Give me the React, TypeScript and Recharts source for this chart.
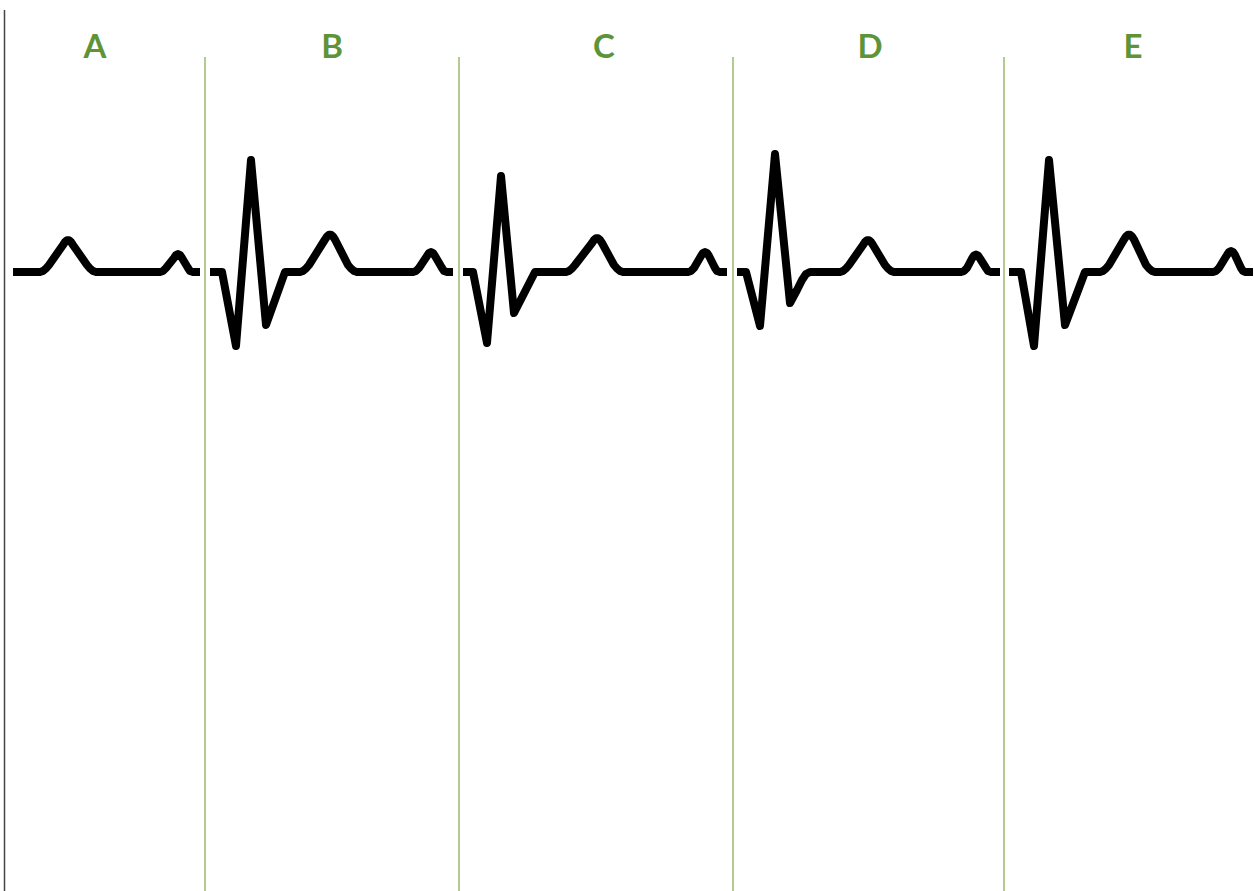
import {
  LineChart,
  Line,
  XAxis,
  YAxis,
  ReferenceLine,
  ReferenceDot,
} from "recharts";

// ECG trace, one strip per panel. t = horizontal position, v = amplitude (mV-ish)
type Pt = [number, number];

const segA: Pt[] = [
  [13, 0], [40, 0],
  [43, 0.01], [46, 0.035], [49, 0.07], [63, 0.27], [65, 0.3], [67, 0.318], [69, 0.318], [71, 0.3], [73, 0.27], [87, 0.07], [90, 0.035], [93, 0.01], [96, 0],
  [160, 0], [163, 0.01], [166, 0.04], [174, 0.14], [176, 0.17], [178, 0.18], [180, 0.17], [182, 0.14], [188, 0.04], [190, 0.01], [193, 0], [200, 0],
];

const segB: Pt[] = [
  [210, 0], [222, 0], [236, -0.74], [251, 1.12], [266, -0.53], [285, 0],
  [300, 0], [303, 0.01], [306, 0.035], [309, 0.07], [325, 0.325], [327, 0.355], [329, 0.373], [331, 0.373], [333, 0.355], [335, 0.325], [348, 0.07], [351, 0.035], [354, 0.01], [357, 0],
  [413, 0], [416, 0.01], [419, 0.04], [427, 0.16], [429, 0.19], [431, 0.2], [433, 0.19], [435, 0.16], [442, 0.04], [444, 0.01], [447, 0], [453, 0],
];

const segC: Pt[] = [
  [463, 0], [473, 0], [487, -0.71], [501, 0.96], [514, -0.41], [535, 0],
  [566, 0], [569, 0.01], [572, 0.035], [575, 0.07], [592, 0.29], [594, 0.32], [596, 0.338], [598, 0.338], [600, 0.32], [602, 0.29], [614, 0.07], [617, 0.035], [620, 0.01], [623, 0],
  [688, 0], [691, 0.01], [694, 0.04], [701, 0.16], [703, 0.19], [705, 0.2], [707, 0.19], [709, 0.16], [715, 0.04], [717, 0.01], [720, 0], [727, 0],
];

const segD: Pt[] = [
  [737, 0], [746, 0], [760, -0.54], [775, 1.18], [790, -0.31], [797, -0.18], [802, -0.08], [806, -0.02], [810, 0],
  [840, 0], [843, 0.01], [846, 0.035], [849, 0.07], [863, 0.27], [865, 0.3], [867, 0.318], [869, 0.318], [871, 0.3], [873, 0.27], [885, 0.07], [888, 0.035], [891, 0.01], [894, 0],
  [961, 0], [964, 0.01], [967, 0.04], [972, 0.135], [974, 0.165], [976, 0.175], [978, 0.165], [980, 0.135], [986, 0.04], [988, 0.01], [991, 0], [1000, 0],
];

const segE: Pt[] = [
  [1009, 0], [1021, 0], [1034, -0.74], [1049, 1.12], [1065, -0.53], [1085, 0],
  [1100, 0], [1103, 0.01], [1106, 0.035], [1109, 0.07], [1124, 0.325], [1126, 0.355], [1128, 0.373], [1130, 0.373], [1132, 0.355], [1134, 0.325], [1146, 0.07], [1149, 0.035], [1152, 0.01], [1155, 0],
  [1213, 0], [1216, 0.01], [1219, 0.04], [1227, 0.17], [1229, 0.2], [1231, 0.21], [1233, 0.2], [1235, 0.17], [1241, 0.04], [1243, 0.01], [1245, 0], [1253, 0],
];

const segments = [segA, segB, segC, segD, segE];
const panelLabels = ["A", "B", "C", "D", "E"];
const labelX = [95, 332, 604, 870, 1133];
const dividerX = [205, 459, 733, 1004];

const X_MIN = 4;
const X_MAX = 1254;
const Y_MIN = -6.19;
const Y_MAX = 2.62;
const LABEL_Y = 2.26;
const DIVIDER_TOP = 2.15;

const GREEN = "#5e9438";

export default function App() {
  return (
    <div style={{ position: "absolute", left: 0, top: 0 }}>
      <LineChart
        width={1254}
        height={891}
        margin={{ top: 10, right: 0, bottom: 0, left: 4 }}
      >
        <XAxis type="number" dataKey="t" domain={[X_MIN, X_MAX]} hide allowDataOverflow />
        <YAxis
          type="number"
          domain={[Y_MIN, Y_MAX]}
          width={0}
          tick={false}
          tickLine={false}
          axisLine={false}
          allowDataOverflow
        />
        {/* left axis rule */}
        <ReferenceLine x={X_MIN + 0.5} stroke="#444" strokeWidth={1.5} ifOverflow="visible" />
        {dividerX.map((x) => (
          <ReferenceLine
            key={x}
            segment={[
              { x, y: DIVIDER_TOP },
              { x, y: Y_MIN },
            ]}
            stroke="#9bb870"
            strokeWidth={1.5}
          />
        ))}
        {labelX.map((x, i) => (
          <ReferenceDot
            key={panelLabels[i]}
            x={x}
            y={LABEL_Y}
            r={0}
            stroke="none"
            fill="none"
            label={{
              value: panelLabels[i],
              position: "center",
              fill: GREEN,
              fontSize: 33,
              fontWeight: 700,
              fontFamily: "Lato, 'Open Sans', sans-serif",
            }}
          />
        ))}
        {segments.map((seg, i) => (
          <Line
            key={panelLabels[i]}
            data={seg.map(([t, v]) => ({ t, v }))}
            dataKey="v"
            type="linear"
            stroke="#000"
            strokeWidth={8}
            strokeLinejoin="round"
            strokeLinecap="butt"
            dot={false}
            activeDot={false}
            isAnimationActive={false}
          />
        ))}
      </LineChart>
    </div>
  );
}
